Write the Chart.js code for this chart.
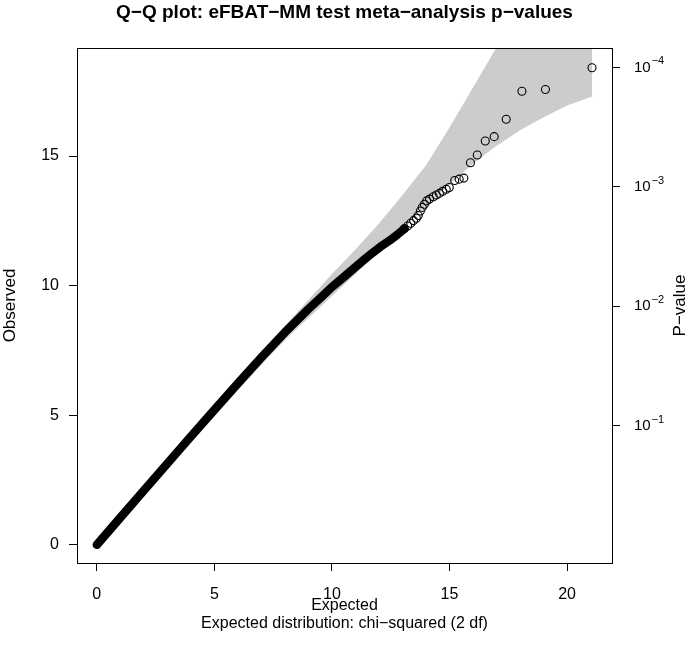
<!DOCTYPE html>
<html>
<head>
<meta charset="utf-8">
<script src="https://cdn.jsdelivr.net/npm/chart.js@4.4.1/dist/chart.umd.min.js"></script>
<style>
html,body{margin:0;padding:0;background:#fff;}
#wrap{width:689px;height:664px;position:relative;}
</style>
</head>
<body>
<div id="wrap"><canvas id="c" width="689" height="664"></canvas></div>
<script>
// ---- data ----
const titleText = "Q\u2212Q plot: eFBAT\u2212MM test meta\u2212analysis p\u2212values";
const xLabel = "Expected";
const xSubLabel = "Expected distribution: chi\u2212squared (2 df)";
const yLabel = "Observed";
const y2Label = "P\u2212value";

// dense part of the Q-Q curve (overlapping points form a thick line)
const denseExpected = [0, 1, 2, 3, 4, 5, 6, 7, 8, 9, 9.5, 10, 10.5, 11, 11.35, 11.7, 12.06, 12.48, 12.77, 13.08];
const denseObserved = [0, 1.05, 2.1, 3.14, 4.18, 5.21, 6.23, 7.23, 8.2, 9.1, 9.52, 9.95, 10.33, 10.72, 10.99, 11.25, 11.5, 11.76, 11.96, 12.2];

// individually visible points in the tail
const tailExpected = [13.08, 13.22, 13.35, 13.47, 13.59, 13.67, 13.76, 13.84, 13.93, 14.03, 14.15, 14.31, 14.44, 14.57, 14.71, 14.86, 14.99, 15.22, 15.41, 15.61, 15.89, 16.18, 16.52, 16.90, 17.41, 18.08, 19.08, 21.06];
const tailObserved = [12.20, 12.30, 12.41, 12.51, 12.60, 12.71, 12.88, 13.02, 13.14, 13.27, 13.34, 13.43, 13.50, 13.56, 13.64, 13.72, 13.79, 14.06, 14.11, 14.15, 14.74, 15.04, 15.58, 15.75, 16.42, 17.50, 17.57, 18.41];

// confidence band
const bandExpected = [0, 5, 7, 8, 9, 10, 11, 12, 13, 14, 15, 16, 17, 18, 19, 20, 21.07];
const bandUpper = [0.05, 5.25, 7.35, 8.45, 9.45, 10.45, 11.4, 12.4, 13.5, 14.65, 16.1, 17.65, 19.2, 20.8, 22.5, 24.3, 26.3];
const bandLower = [-0.05, 5.0, 6.95, 7.9, 8.75, 9.6, 10.45, 11.3, 12.15, 13.1, 13.9, 14.7, 15.4, 16.0, 16.5, 16.95, 17.3];

// axis ticks
const xTickValues = [0, 5, 10, 15, 20];
const yTickValues = [0, 5, 10, 15];
const pTickValues = [1e-1, 1e-2, 1e-3, 1e-4];
const pTickExponents = ["\u22121", "\u22122", "\u22123", "\u22124"];

// ---- chart ----
const FONT = "'Liberation Sans', Arial, Helvetica, sans-serif";
const toPts = (xs, ys) => xs.map((x, i) => ({x: x, y: ys[i]}));
// chi-squared (2 df) statistic that corresponds to a p-value
const chiForP = p => -2 * Math.log(p);

const textPlugin = {
  id: 'textPlugin',
  afterDraw(chart) {
    const ctx = chart.ctx;
    const a = chart.chartArea;
    ctx.save();
    // frame
    ctx.strokeStyle = '#000';
    ctx.lineWidth = 1;
    ctx.strokeRect(Math.round(a.left) + 0.5, Math.round(a.top) + 0.5,
                   Math.round(a.right) - Math.round(a.left), Math.round(a.bottom) - Math.round(a.top));
    ctx.fillStyle = '#000';
    // right axis labels with superscripts
    const y2 = chart.scales.y2;
    pTickValues.forEach((p, i) => {
      const py = y2.getPixelForValue(chiForP(p));
      const x0 = a.right + 22;
      ctx.font = '15px ' + FONT;
      ctx.textAlign = 'left';
      ctx.textBaseline = 'middle';
      ctx.fillText('10', x0, py);
      const w = ctx.measureText('10').width;
      ctx.font = '11px ' + FONT;
      ctx.fillText(pTickExponents[i], x0 + w + 1, py - 6);
    });
    // axis titles
    const cx = (a.left + a.right) / 2;
    const cy = (a.top + a.bottom) / 2;
    ctx.textAlign = 'center';
    ctx.textBaseline = 'middle';
    ctx.font = '16px ' + FONT;
    ctx.fillText(xLabel, cx, 606);
    ctx.fillText(xSubLabel, cx, 624);
    ctx.font = '17px ' + FONT;
    ctx.save();
    ctx.translate(10, cy);
    ctx.rotate(-Math.PI / 2);
    ctx.fillText(yLabel, 0, 0);
    ctx.restore();
    ctx.save();
    ctx.translate(680, cy);
    ctx.rotate(-Math.PI / 2);
    ctx.fillText(y2Label, 0, 0);
    ctx.restore();
    ctx.restore();
  }
};

const tickCommon = {color: '#000', font: {family: FONT, size: 16}};
const gridCommon = {display: true, drawOnChartArea: false, drawTicks: true, tickLength: 8, tickColor: '#000', tickWidth: 1};

new Chart(document.getElementById('c'), {
  type: 'scatter',
  data: {
    datasets: [
      {
        type: 'scatter',
        label: 'tail',
        data: toPts(tailExpected, tailObserved),
        showLine: false,
        pointRadius: 4,
        pointBorderWidth: 1.1,
        pointBorderColor: '#000',
        pointBackgroundColor: 'rgba(0,0,0,0)'
      },
      {
        type: 'line',
        label: 'dense',
        data: toPts(denseExpected, denseObserved),
        borderColor: '#000',
        borderWidth: 8.5,
        borderCapStyle: 'round',
        borderJoinStyle: 'round',
        pointRadius: 0,
        tension: 0,
        fill: false
      },
      {
        type: 'line',
        label: 'upper',
        data: toPts(bandExpected, bandUpper),
        borderWidth: 0,
        borderColor: 'rgba(0,0,0,0)',
        backgroundColor: '#cccccc',
        pointRadius: 0,
        tension: 0,
        fill: '+1'
      },
      {
        type: 'line',
        label: 'lower',
        data: toPts(bandExpected, bandLower),
        borderWidth: 0,
        borderColor: 'rgba(0,0,0,0)',
        pointRadius: 0,
        tension: 0,
        fill: false
      }
    ]
  },
  options: {
    responsive: false,
    animation: false,
    events: [],
    layout: {padding: 0},
    plugins: {
      legend: {display: false},
      tooltip: {enabled: false},
      title: {
        display: true,
        text: titleText,
        color: '#000',
        font: {family: FONT, size: 19, weight: 'bold'},
        padding: {top: 1, bottom: 24.2}
      }
    },
    scales: {
      x: {
        type: 'linear',
        position: 'bottom',
        min: -0.843, max: 21.91,
        grid: gridCommon,
        border: {display: false},
        ticks: Object.assign({padding: 14, maxRotation: 0}, tickCommon),
        afterBuildTicks: s => { s.ticks = xTickValues.map(v => ({value: v})); },
        afterFit: s => { s.height = 101; }
      },
      y: {
        type: 'linear',
        position: 'left',
        min: -0.70, max: 19.17,
        grid: gridCommon,
        border: {display: false},
        ticks: Object.assign({padding: 10}, tickCommon),
        afterBuildTicks: s => { s.ticks = yTickValues.map(v => ({value: v})); },
        afterFit: s => { s.width = 77; }
      },
      y2: {
        type: 'linear',
        position: 'right',
        min: -0.70, max: 19.17,
        grid: gridCommon,
        border: {display: false},
        ticks: {display: false},
        afterBuildTicks: s => { s.ticks = pTickValues.map(p => ({value: chiForP(p)})); },
        afterFit: s => { s.width = 77; }
      }
    }
  },
  plugins: [textPlugin]
});
</script>
</body>
</html>
